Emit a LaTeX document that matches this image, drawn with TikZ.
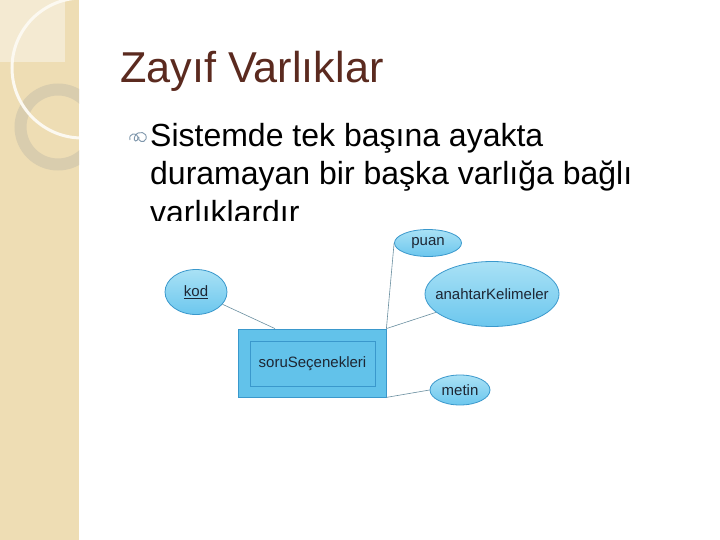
\documentclass[tikz,border=0pt]{standalone}
\usepackage{fontspec}
\setmainfont{Liberation Sans}
\usetikzlibrary{shapes.geometric}
\definecolor{strip-beige}{HTML}{EEDDB4}
\definecolor{strip-light}{HTML}{F4EAD2}
\definecolor{ring-tan}{HTML}{D9CDAE}
\definecolor{title-brown}{HTML}{5B2A1F}
\definecolor{bullet-gray}{HTML}{7F97AC}
\definecolor{attr-top}{HTML}{A9E1F5}
\definecolor{attr-bottom}{HTML}{6CC7EE}
\definecolor{attr-edge}{HTML}{3A98CC}
\definecolor{box-fill}{HTML}{62C2EA}
\definecolor{link-gray}{HTML}{6A8FA0}
\definecolor{er-text}{HTML}{1D2633}
\tikzset{
    attr-ellipse/.style = {ellipse, draw=attr-edge, top color=attr-top, bottom color=attr-bottom, line width=0.8pt, inner sep=0pt, text=er-text, font=\fontsize{15}{17}\selectfont},
    weak-box/.style = {rectangle, draw=attr-edge, fill=box-fill, line width=0.8pt, minimum width=148pt, minimum height=68pt},
    weak-box-inner/.style = {rectangle, draw=attr-edge, line width=0.6pt, minimum width=125pt, minimum height=45pt, text=er-text, font=\fontsize{15}{17}\selectfont},
    er-link/.style = {draw=link-gray, line width=0.6pt},
    body-line/.style = {anchor=base west, inner sep=0pt, font=\fontsize{32}{38}\selectfont},
}
\begin{document}
\begin{tikzpicture}[x=1pt,y=-1pt]
\useasboundingbox (0,0) rectangle (720,540);
\fill[white] (0,0) rectangle (720,540);
% left strip
\fill[strip-beige] (0,0) rectangle (79,540);
\begin{scope}
\clip (0,0) rectangle (79,540);
\fill[strip-light] (0,0) rectangle (65,62);
\draw[ring-tan, line width=12pt] (58,127) circle (37.5);
\draw[white!70!strip-light, line width=3pt] (82,68) circle (70);
\end{scope}
% title and text
\node[anchor=base west, inner sep=0pt, text=title-brown, font=\fontsize{43.2}{50}\selectfont] (title) at (120,83) {Zayıf Varlıklar};
\draw[bullet-gray, line width=0.9pt] (130,140) .. controls (128,133) and (137,132) .. (138,137) .. controls (139,142) and (132,143) .. (135,136) .. controls (138,130) and (148,132) .. (146,139) .. controls (144,144) and (137,141) .. (139,137);
\node[body-line] (line-1) at (150,147) {Sistemde tek başına ayakta};
\node[body-line] (line-2) at (150,185) {duramayan bir başka varlığa bağlı};
\node[body-line] (line-3) at (150,223) {varlıklardır};
% er picture
\fill[white] (145,221) rectangle (590,415);
\node[weak-box] (entity) at (312,363) {};
\node[weak-box-inner] (entity-name) at (312.5,363.5) {soruSeçenekleri};
\node[attr-ellipse, minimum width=62pt, minimum height=45pt] (kod) at (196,292) {\underline{kod}};
\node[attr-ellipse, minimum width=67pt, minimum height=27pt] (puan) at (428,243) {puan};
\node[attr-ellipse, minimum width=134pt, minimum height=65pt, inner xsep=-10pt] (anahtar) at (492,294) {anahtarKelimeler};
\node[attr-ellipse, minimum width=60pt, minimum height=30pt] (metin) at (460,390) {metin};
\draw[er-link] (kod) -- (entity.north west -| 275,0);
\draw[er-link] (puan.west) -- (entity.north east);
\draw[er-link] (anahtar) -- (entity.north east);
\draw[er-link] (entity.south east) -- (metin.west);
\end{tikzpicture}
\end{document}
